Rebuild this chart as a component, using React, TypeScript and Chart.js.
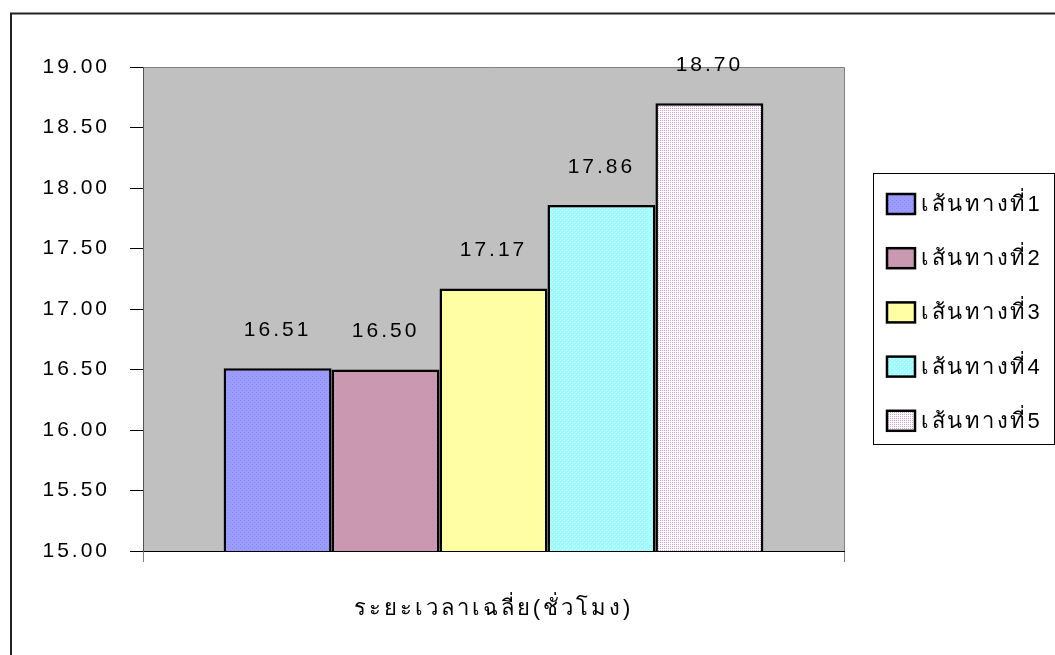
import React, { useEffect, useRef } from 'react';
import { Chart, registerables } from 'chart.js';

Chart.register(...registerables);

const categories = [''];
const seriesLabels = ['เส้นทางที่1', 'เส้นทางที่2', 'เส้นทางที่3', 'เส้นทางที่4', 'เส้นทางที่5'];
const seriesValues = [16.51, 16.5, 17.17, 17.86, 18.7];
const yMin = 15;
const yMax = 19;
const yStep = 0.5;
const xTitle = 'ระยะเวลาเฉลี่ย(ชั่วโมง)';

const FONT_FAMILY = '"Liberation Sans", Arial, "DejaVu Sans", sans-serif';
const SPACING = '3px';

function makePattern(base: string, dot: string, cells: Array<[number, number]>): CanvasPattern | string {
  const c = document.createElement('canvas');
  c.width = 4;
  c.height = 4;
  const g = c.getContext('2d');
  if (!g) return base;
  g.fillStyle = base;
  g.fillRect(0, 0, 4, 4);
  g.fillStyle = dot;
  cells.forEach(([x, y]) => g.fillRect(x, y, 1, 1));
  const p = g.createPattern(c, 'repeat');
  return p || base;
}

const checker: Array<[number, number]> = [[0, 0], [2, 0], [1, 1], [3, 1], [0, 2], [2, 2], [1, 3], [3, 3]];
const quad: Array<[number, number]> = [[0, 0], [2, 0], [0, 2], [2, 2]];
const sparse: Array<[number, number]> = [[0, 0], [2, 2]];

export default function App() {
  const ref = useRef<HTMLCanvasElement | null>(null);

  useEffect(() => {
    if (!ref.current) return;
    document.body.style.margin = '0';

    const fills = [
      makePattern('#9C9CFF', '#8A8AF2', sparse),
      makePattern('#CC99B2', '#C190AA', sparse),
      makePattern('#FFFF9C', '#FFFFD8', sparse),
      makePattern('#A0FCFF', '#D0FFFF', sparse),
      makePattern('#FFFFFF', '#CFA0D4', quad),
    ];

    const spacingPlugin = {
      id: 'spacing',
      beforeUpdate(chart: any) {
        chart.ctx.letterSpacing = SPACING;
      },
      beforeLayout(chart: any) {
        chart.ctx.letterSpacing = SPACING;
      },
      beforeDraw(chart: any) {
        chart.ctx.letterSpacing = SPACING;
      },
    };

    const backgroundPlugin = {
      id: 'plotBg',
      beforeDraw(chart: any) {
        const { ctx, chartArea } = chart;
        const { left, right, top, bottom } = chartArea;
        ctx.save();
        ctx.fillStyle = '#FFFFFF';
        ctx.fillRect(0, 0, chart.width, chart.height);
        ctx.strokeStyle = '#222222';
        ctx.lineWidth = 2;
        ctx.beginPath();
        ctx.moveTo(11, chart.height + 2);
        ctx.lineTo(11, 13.5);
        ctx.lineTo(chart.width + 2, 13.5);
        ctx.stroke();
        ctx.fillStyle = '#C0C0C0';
        ctx.fillRect(left, top, right - left, bottom - top);
        ctx.strokeStyle = '#808080';
        ctx.lineWidth = 1;
        ctx.beginPath();
        ctx.moveTo(left, top + 0.5);
        ctx.lineTo(right + 0.5, top + 0.5);
        ctx.lineTo(right + 0.5, bottom);
        ctx.stroke();
        ctx.restore();
      },
    };

    const labelPlugin = {
      id: 'valueLabels',
      afterDatasetsDraw(chart: any) {
        const { ctx } = chart;
        ctx.save();
        ctx.letterSpacing = SPACING;
        ctx.font = `21px ${FONT_FAMILY}`;
        ctx.fillStyle = '#000000';
        ctx.textAlign = 'center';
        ctx.textBaseline = 'middle';
        chart.data.datasets.forEach((ds: any, i: number) => {
          const meta = chart.getDatasetMeta(i);
          const el = meta.data[0];
          if (!el) return;
          ctx.fillText(Number(ds.data[0]).toFixed(2), el.x, el.y - 38);
        });
        ctx.restore();
      },
    };

    const legendPlugin = {
      id: 'boxLegend',
      afterDraw(chart: any) {
        const { ctx } = chart;
        const boxL = 873;
        const boxT = 173;
        const boxW = 181;
        const boxH = 271;
        ctx.save();
        ctx.fillStyle = '#FFFFFF';
        ctx.fillRect(boxL, boxT, boxW, boxH);
        ctx.strokeStyle = '#000000';
        ctx.lineWidth = 1;
        ctx.strokeRect(boxL + 0.5, boxT + 0.5, boxW, boxH);
        ctx.letterSpacing = '2.5px';
        ctx.font = `22px ${FONT_FAMILY}`;
        ctx.textAlign = 'left';
        ctx.textBaseline = 'middle';
        chart.data.datasets.forEach((ds: any, i: number) => {
          const yc = 204 + i * 54.2;
          ctx.fillStyle = ds.backgroundColor;
          ctx.fillRect(887, yc - 10, 28, 20);
          ctx.strokeStyle = '#000000';
          ctx.lineWidth = 2.5;
          ctx.strokeRect(887, yc - 10, 28, 20);
          ctx.fillStyle = '#000000';
          ctx.fillText(ds.label, 921, yc + 1);
        });
        ctx.restore();
      },
    };

    const font = { family: FONT_FAMILY, size: 21 };

    const chart = new Chart(ref.current, {
      type: 'bar',
      data: {
        labels: categories,
        datasets: seriesLabels.map((label, i) => ({
          label,
          data: [seriesValues[i]],
          backgroundColor: fills[i] as any,
          borderColor: '#000000',
          borderWidth: 2.5,
          borderSkipped: false,
          categoryPercentage: 0.77,
          barPercentage: 1.0,
        })),
      },
      options: {
        animation: false,
        responsive: true,
        maintainAspectRatio: false,
        devicePixelRatio: 1,
        layout: { padding: { left: 0, right: 211, top: 67, bottom: 0 } },
        plugins: {
          legend: { display: false },
          tooltip: { enabled: false },
          title: { display: false },
        },
        scales: {
          x: {
            type: 'category',
            grid: {
              display: true,
              drawOnChartArea: false,
              drawTicks: true,
              tickLength: 11,
              color: '#808080',
              offset: true,
            },
            border: { display: true, color: '#000000', width: 1 },
            ticks: { display: false },
            title: {
              display: true,
              text: xTitle,
              color: '#000000',
              font: { family: FONT_FAMILY, size: 22 },
              padding: { top: 0, bottom: 33 },
            },
            afterFit: (s: any) => {
              s.height = 104;
            },
          },
          y: {
            type: 'linear',
            min: yMin,
            max: yMax,
            ticks: {
              stepSize: yStep,
              color: '#000000',
              font,
              padding: 20,
              callback: (v: any) => Number(v).toFixed(2),
            },
            grid: {
              display: true,
              drawOnChartArea: false,
              drawTicks: true,
              tickLength: 13,
              color: '#000000',
            },
            border: { display: true, color: '#555555', width: 1 },
            afterFit: (s: any) => {
              s.width = 143;
            },
          },
        },
      } as any,
      plugins: [spacingPlugin, backgroundPlugin, labelPlugin, legendPlugin],
    });

    return () => {
      chart.destroy();
    };
  }, []);

  return (
    <div style={{ position: 'absolute', left: 0, top: 0, width: 1055, height: 655, background: '#fff' }}>
      <canvas ref={ref} />
    </div>
  );
}
